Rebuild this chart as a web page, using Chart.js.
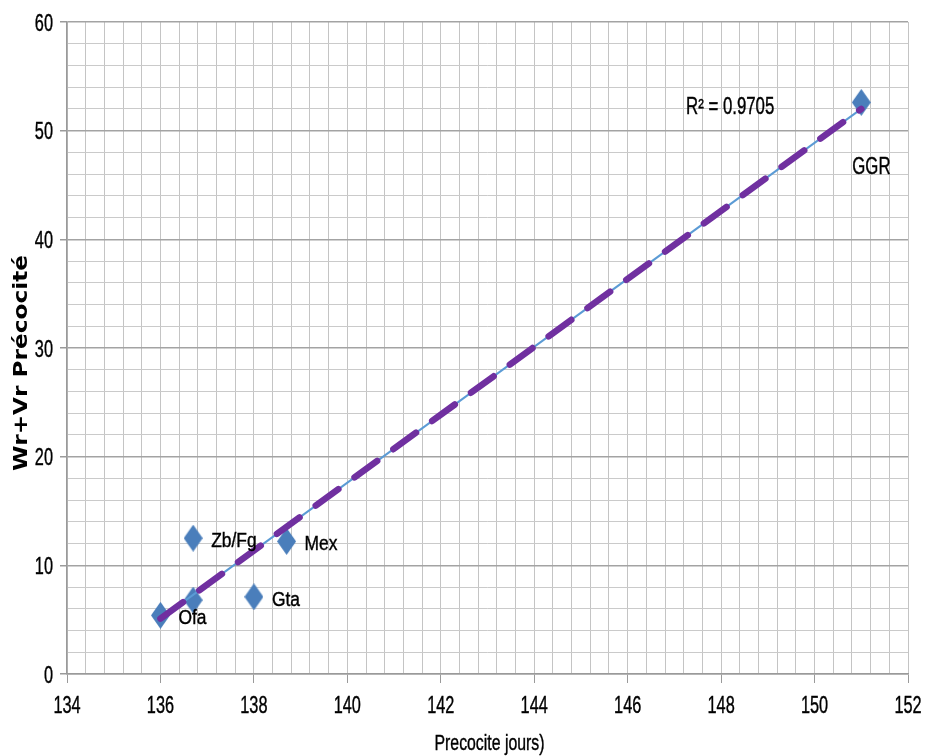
<!DOCTYPE html>
<html>
<head>
<meta charset="utf-8">
<title>Wr+Vr Précocité</title>
<script src="https://cdn.jsdelivr.net/npm/chart.js@4.4.0/dist/chart.umd.min.js"></script>
<style>
    body { margin: 0; background: #ffffff; }
    canvas { display: block; }
</style>
</head>
<body>
<canvas id="precocite-canvas" width="926" height="756"></canvas>
<script>
// parents: precocity (days) against Wr+Vr
var precociteJours = [136, 136.7, 136.7, 138, 138.7, 151];
var wrVr = [5.4, 6.8, 12.5, 7.1, 12.2, 52.6];
var parentNames = ['Ofa', '', 'Zb/Fg', 'Gta', 'Mex', 'GGR'];

// linear trend line end points and its R²
var trendX = [136, 151];
var trendY = [5.1, 52.0];
var rSquared = '0.9705';

var xTitle = 'Precocite jours)';
var yTitle = 'Wr+Vr Précocité';

var baseFont = "'Liberation Sans', Arial, sans-serif";

function isEvenTick(v) {
    return Math.abs(v / 2 - Math.round(v / 2)) < 1e-6;
}

// Arial Narrow is not around, so squeeze Liberation Sans horizontally
function narrowText(ctx, text, x, y, size, squeeze, align) {
    ctx.save();
    ctx.translate(x, y);
    ctx.scale(squeeze, 1);
    ctx.font = size + "px " + baseFont;
    ctx.fillStyle = '#000';
    ctx.strokeStyle = '#000';
    ctx.lineWidth = 0.4;
    ctx.textAlign = align;
    ctx.textBaseline = 'alphabetic';
    ctx.fillText(text, 0, 0);
    ctx.strokeText(text, 0, 0);
    ctx.restore();
}

// tall blue diamond used as the marker
function diamondMarker(w, h, color) {
    var c = document.createElement('canvas');
    c.width = w;
    c.height = h;
    var g = c.getContext('2d');
    g.fillStyle = color;
    g.beginPath();
    g.moveTo(w / 2, 0);
    g.lineTo(w, h / 2);
    g.lineTo(w / 2, h);
    g.lineTo(0, h / 2);
    g.closePath();
    g.fill();
    return c;
}

// tick labels and axis titles, drawn from the scales' own ticks
const axisText = {
    id: 'axisText',
    afterDraw(chart) {
        const ctx = chart.ctx;
        const xs = chart.scales.x;
        const ys = chart.scales.y;
        xs.ticks.forEach(function (t) {
            if (isEvenTick(t.value)) {
                narrowText(ctx, String(Math.round(t.value)), xs.getPixelForValue(t.value), xs.top + 39, 24, 0.68, 'center');
            }
        });
        ys.ticks.forEach(function (t) {
            if (t.value % 10 === 0) {
                narrowText(ctx, String(t.value), ys.right - 14, ys.getPixelForValue(t.value) + 8.5, 24, 0.68, 'right');
            }
        });
        narrowText(ctx, xTitle, (xs.left + xs.right) / 2 + 2, chart.height - 6, 22, 0.72, 'center');

        // bold vertical title, stretched along its length
        ctx.save();
        ctx.font = "bold 20px 'DejaVu Sans', sans-serif";
        var w = ctx.measureText(yTitle).width;
        ctx.translate(27, 363);
        ctx.rotate(-Math.PI / 2);
        ctx.scale(216 / w, 1);
        ctx.fillStyle = '#000';
        ctx.textAlign = 'center';
        ctx.textBaseline = 'alphabetic';
        ctx.fillText(yTitle, 0, 0);
        ctx.restore();
    }
};

// writes the parent names next to their points and the R² text
const nameLabels = {
    id: 'nameLabels',
    afterDatasetsDraw(chart) {
        const ctx = chart.ctx;
        const xs = chart.scales.x;
        const ys = chart.scales.y;
        for (var i = 0; i < parentNames.length; i++) {
            if (!parentNames[i]) continue;
            var px = xs.getPixelForValue(precociteJours[i]);
            var py = ys.getPixelForValue(wrVr[i]);
            if (parentNames[i] == 'GGR') {
                narrowText(ctx, parentNames[i], px - 9, py + 72, 23, 0.73, 'left');
            } else {
                narrowText(ctx, parentNames[i], px + 18, py + 9, 20, 0.87, 'left');
            }
        }
        narrowText(ctx, 'R² = ' + rSquared, xs.getPixelForValue(147.25), ys.getPixelForValue(51.5), 23, 0.73, 'left');
    }
};

const canvasBg = {
    id: 'canvasBg',
    beforeDraw(chart) {
        const ctx = chart.ctx;
        ctx.save();
        ctx.fillStyle = '#ffffff';
        ctx.fillRect(0, 0, chart.width, chart.height);
        ctx.restore();
    }
};

const ctx_prec = document.getElementById('precocite-canvas').getContext('2d');
var precociteChart = new Chart(ctx_prec, {
    type: 'scatter',
    data: {
        datasets: [{
            label: 'Tendance',
            data: trendX.map((x, i) => ({ x: x, y: trendY[i] })),
            showLine: true,
            borderColor: '#7030A0',
            borderWidth: 6.5,
            borderDash: [28, 20],
            borderCapStyle: 'round',
            pointRadius: 0,
            order: 0
        }, {
            label: 'Tendance fond',
            data: trendX.map((x, i) => ({ x: x, y: trendY[i] })),
            showLine: true,
            borderColor: '#5B9BD5',
            borderWidth: 2,
            pointRadius: 0,
            order: 1
        }, {
            label: 'Wr+Vr',
            data: precociteJours.map((x, i) => ({ x: x, y: wrVr[i] })),
            pointStyle: diamondMarker(19, 27, '#4A7EBB'),
            showLine: false,
            order: 2
        }]
    },
    options: {
        responsive: false,
        animation: false,
        layout: {
            padding: { left: 0, top: 22, right: 18, bottom: 0 }
        },
        plugins: {
            legend: { display: false },
            tooltip: { enabled: false }
        },
        scales: {
            x: {
                type: 'linear',
                position: 'bottom',
                min: 134,
                max: 152,
                afterFit: function (scale) { scale.height = 82; },
                ticks: {
                    display: false,
                    stepSize: 0.4,
                    autoSkip: false
                },
                grid: {
                    color: '#c4c4c4',
                    lineWidth: 1,
                    tickLength: 9,
                    tickColor: function (c) { return c.tick && isEvenTick(c.tick.value) ? '#9a9a9a' : 'rgba(0,0,0,0)'; }
                },
                border: { color: '#9a9a9a', width: 1.5 }
            },
            y: {
                type: 'linear',
                min: 0,
                max: 60,
                afterFit: function (scale) { scale.width = 67; },
                ticks: {
                    display: false,
                    stepSize: 2,
                    autoSkip: false
                },
                grid: {
                    color: function (c) { return c.tick && c.tick.value % 10 === 0 ? '#a3a3a3' : '#cacaca'; },
                    lineWidth: function (c) { return c.tick && c.tick.value % 10 === 0 ? 1.5 : 1; },
                    tickLength: 7,
                    tickColor: function (c) { return c.tick && c.tick.value % 10 === 0 ? '#9a9a9a' : 'rgba(0,0,0,0)'; }
                },
                border: { color: '#9a9a9a', width: 1.5 }
            }
        }
    },
    plugins: [canvasBg, nameLabels, axisText]
});
</script>
</body>
</html>
